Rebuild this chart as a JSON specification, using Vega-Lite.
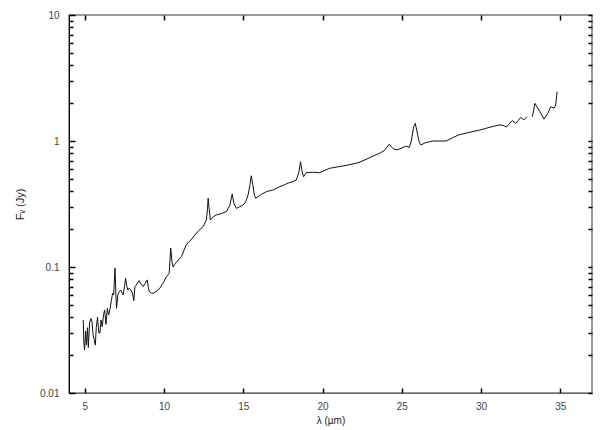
{
  "$schema": "https://vega.github.io/schema/vega-lite/v6.json",
  "width": 523,
  "height": 378,
  "autosize": {"type": "none"},
  "padding": {"left": 69, "top": 15, "right": 21, "bottom": 37},
  "background": "white",
  "config": {
    "view": {"stroke": "#7a7a7a", "strokeWidth": 1.5},
    "axis": {"labelFont": "Liberation Sans", "titleFont": "Liberation Sans", "labelColor": "#444", "titleColor": "#222", "grid": false}
  },
  "data": {"values": [
    {"s": 1, "w": 4.9, "f": 0.038}, {"s": 1, "w": 4.93, "f": 0.026}, {"s": 1, "w": 4.98, "f": 0.022}, {"s": 1, "w": 5.05, "f": 0.031},
    {"s": 1, "w": 5.1, "f": 0.024}, {"s": 1, "w": 5.17, "f": 0.033}, {"s": 1, "w": 5.22, "f": 0.023}, {"s": 1, "w": 5.3, "f": 0.036},
    {"s": 1, "w": 5.38, "f": 0.039}, {"s": 1, "w": 5.45, "f": 0.037}, {"s": 1, "w": 5.52, "f": 0.029}, {"s": 1, "w": 5.6, "f": 0.026},
    {"s": 1, "w": 5.66, "f": 0.024}, {"s": 1, "w": 5.72, "f": 0.033}, {"s": 1, "w": 5.8, "f": 0.04}, {"s": 1, "w": 5.88, "f": 0.03},
    {"s": 1, "w": 5.95, "f": 0.0298}, {"s": 1, "w": 6.02, "f": 0.038}, {"s": 1, "w": 6.1, "f": 0.0336}, {"s": 1, "w": 6.18, "f": 0.042},
    {"s": 1, "w": 6.25, "f": 0.0456}, {"s": 1, "w": 6.33, "f": 0.035}, {"s": 1, "w": 6.42, "f": 0.047}, {"s": 1, "w": 6.5, "f": 0.0416},
    {"s": 1, "w": 6.58, "f": 0.046}, {"s": 1, "w": 6.66, "f": 0.053}, {"s": 1, "w": 6.75, "f": 0.0618}, {"s": 1, "w": 6.82, "f": 0.06},
    {"s": 1, "w": 6.9, "f": 0.098}, {"s": 1, "w": 6.96, "f": 0.06}, {"s": 1, "w": 7.0, "f": 0.047}, {"s": 1, "w": 7.08, "f": 0.06},
    {"s": 1, "w": 7.18, "f": 0.064}, {"s": 1, "w": 7.27, "f": 0.0657}, {"s": 1, "w": 7.35, "f": 0.062}, {"s": 1, "w": 7.42, "f": 0.06},
    {"s": 1, "w": 7.5, "f": 0.07}, {"s": 1, "w": 7.57, "f": 0.0813}, {"s": 1, "w": 7.65, "f": 0.07}, {"s": 1, "w": 7.72, "f": 0.0657},
    {"s": 1, "w": 7.8, "f": 0.068}, {"s": 1, "w": 7.9, "f": 0.066}, {"s": 1, "w": 8.0, "f": 0.062}, {"s": 1, "w": 8.09, "f": 0.054},
    {"s": 1, "w": 8.16, "f": 0.0698}, {"s": 1, "w": 8.25, "f": 0.072}, {"s": 1, "w": 8.35, "f": 0.076}, {"s": 1, "w": 8.43, "f": 0.078},
    {"s": 1, "w": 8.55, "f": 0.073}, {"s": 1, "w": 8.68, "f": 0.07}, {"s": 1, "w": 8.8, "f": 0.074}, {"s": 1, "w": 8.93, "f": 0.079},
    {"s": 1, "w": 9.0, "f": 0.07}, {"s": 1, "w": 9.06, "f": 0.0637}, {"s": 1, "w": 9.2, "f": 0.062}, {"s": 1, "w": 9.31, "f": 0.0618},
    {"s": 1, "w": 9.5, "f": 0.064}, {"s": 1, "w": 9.73, "f": 0.0678}, {"s": 1, "w": 9.95, "f": 0.075}, {"s": 1, "w": 10.15, "f": 0.0838},
    {"s": 1, "w": 10.32, "f": 0.089}, {"s": 1, "w": 10.42, "f": 0.141}, {"s": 1, "w": 10.5, "f": 0.11}, {"s": 1, "w": 10.57, "f": 0.1},
    {"s": 1, "w": 10.67, "f": 0.105}, {"s": 1, "w": 10.8, "f": 0.11}, {"s": 1, "w": 10.99, "f": 0.117}, {"s": 1, "w": 11.1, "f": 0.121},
    {"s": 1, "w": 11.25, "f": 0.135}, {"s": 1, "w": 11.4, "f": 0.15}, {"s": 1, "w": 11.55, "f": 0.158}, {"s": 1, "w": 11.7, "f": 0.164},
    {"s": 1, "w": 11.93, "f": 0.179}, {"s": 1, "w": 12.2, "f": 0.195}, {"s": 1, "w": 12.46, "f": 0.209}, {"s": 1, "w": 12.67, "f": 0.236},
    {"s": 1, "w": 12.74, "f": 0.29}, {"s": 1, "w": 12.78, "f": 0.351}, {"s": 1, "w": 12.83, "f": 0.3}, {"s": 1, "w": 12.92, "f": 0.236},
    {"s": 1, "w": 13.1, "f": 0.25}, {"s": 1, "w": 13.3, "f": 0.259}, {"s": 1, "w": 13.6, "f": 0.265}, {"s": 1, "w": 13.93, "f": 0.275},
    {"s": 1, "w": 14.15, "f": 0.31}, {"s": 1, "w": 14.3, "f": 0.38}, {"s": 1, "w": 14.4, "f": 0.32}, {"s": 1, "w": 14.56, "f": 0.292},
    {"s": 1, "w": 14.75, "f": 0.3}, {"s": 1, "w": 14.98, "f": 0.31}, {"s": 1, "w": 15.15, "f": 0.33}, {"s": 1, "w": 15.3, "f": 0.373},
    {"s": 1, "w": 15.42, "f": 0.45}, {"s": 1, "w": 15.5, "f": 0.53}, {"s": 1, "w": 15.6, "f": 0.45}, {"s": 1, "w": 15.7, "f": 0.37},
    {"s": 1, "w": 15.78, "f": 0.351}, {"s": 1, "w": 16.1, "f": 0.375}, {"s": 1, "w": 16.45, "f": 0.396}, {"s": 1, "w": 16.9, "f": 0.41},
    {"s": 1, "w": 17.29, "f": 0.434}, {"s": 1, "w": 17.6, "f": 0.45}, {"s": 1, "w": 17.9, "f": 0.467}, {"s": 1, "w": 18.1, "f": 0.475},
    {"s": 1, "w": 18.34, "f": 0.49}, {"s": 1, "w": 18.5, "f": 0.56}, {"s": 1, "w": 18.61, "f": 0.685}, {"s": 1, "w": 18.7, "f": 0.58},
    {"s": 1, "w": 18.8, "f": 0.52}, {"s": 1, "w": 18.97, "f": 0.56}, {"s": 1, "w": 19.4, "f": 0.565}, {"s": 1, "w": 19.8, "f": 0.56},
    {"s": 1, "w": 20.44, "f": 0.607}, {"s": 1, "w": 21.0, "f": 0.625}, {"s": 1, "w": 21.5, "f": 0.64}, {"s": 1, "w": 22.3, "f": 0.675},
    {"s": 1, "w": 22.8, "f": 0.72}, {"s": 1, "w": 23.2, "f": 0.76}, {"s": 1, "w": 23.6, "f": 0.8}, {"s": 1, "w": 23.9, "f": 0.84},
    {"s": 1, "w": 24.2, "f": 0.94}, {"s": 1, "w": 24.45, "f": 0.87}, {"s": 1, "w": 24.7, "f": 0.85}, {"s": 1, "w": 25.0, "f": 0.88},
    {"s": 1, "w": 25.27, "f": 0.91}, {"s": 1, "w": 25.47, "f": 0.89}, {"s": 1, "w": 25.6, "f": 1.0}, {"s": 1, "w": 25.75, "f": 1.3},
    {"s": 1, "w": 25.85, "f": 1.38}, {"s": 1, "w": 25.95, "f": 1.2}, {"s": 1, "w": 26.1, "f": 0.98}, {"s": 1, "w": 26.2, "f": 0.93},
    {"s": 1, "w": 26.5, "f": 0.97}, {"s": 1, "w": 26.95, "f": 1.0}, {"s": 1, "w": 27.4, "f": 1.0}, {"s": 1, "w": 27.8, "f": 1.0},
    {"s": 1, "w": 28.2, "f": 1.06}, {"s": 1, "w": 28.6, "f": 1.12}, {"s": 1, "w": 29.0, "f": 1.15}, {"s": 1, "w": 29.5, "f": 1.19},
    {"s": 1, "w": 29.9, "f": 1.22}, {"s": 1, "w": 30.3, "f": 1.26}, {"s": 1, "w": 30.7, "f": 1.3}, {"s": 1, "w": 31.14, "f": 1.34},
    {"s": 1, "w": 31.4, "f": 1.33}, {"s": 1, "w": 31.6, "f": 1.29}, {"s": 1, "w": 31.8, "f": 1.38}, {"s": 1, "w": 31.97, "f": 1.45},
    {"s": 1, "w": 32.2, "f": 1.38}, {"s": 1, "w": 32.35, "f": 1.46}, {"s": 1, "w": 32.5, "f": 1.54}, {"s": 1, "w": 32.7, "f": 1.47},
    {"s": 1, "w": 32.9, "f": 1.56}, {"s": 2, "w": 33.24, "f": 1.56}, {"s": 2, "w": 33.4, "f": 1.99},
    {"s": 2, "w": 33.7, "f": 1.72}, {"s": 2, "w": 33.97, "f": 1.49}, {"s": 2, "w": 34.2, "f": 1.65}, {"s": 2, "w": 34.4, "f": 1.87},
    {"s": 2, "w": 34.6, "f": 1.82}, {"s": 2, "w": 34.7, "f": 1.9}, {"s": 2, "w": 34.8, "f": 2.46}
  ]},
  "layer": [
    {
      "mark": {"type": "line", "color": "#111", "strokeWidth": 1},
      "encoding": {
        "detail": {"field": "s", "type": "nominal"},
        "x": {"field": "w", "type": "quantitative", "scale": {"domain": [4, 37], "nice": false, "zero": false},
          "axis": {"orient": "bottom", "values": [5, 10, 15, 20, 25, 30, 35], "title": "λ (µm)", "tickSize": -5, "tickColor": "black", "tickWidth": 1.5, "labelPadding": 13, "labelFontSize": 10, "titleFontSize": 10, "titleFontWeight": "normal", "titlePadding": 4, "domainColor": "#666"}},
        "y": {"field": "f", "type": "quantitative", "scale": {"type": "log", "domain": [0.01, 10], "nice": false},
          "axis": {"orient": "left", "values": [0.01, 0.1, 1, 10], "format": "~g", "tickSize": -6, "tickColor": "black", "tickWidth": 1.5,
            "labelPadding": 16, "labelFontSize": 10, "title": "Fᵥ (Jy)", "titleFontSize": 11, "titleFontWeight": "normal", "titlePadding": 14, "domainColor": "black"}}
      }
    },
    {
      "mark": {"type": "line", "opacity": 0},
      "encoding": {
        "x": {"field": "w", "type": "quantitative",
          "axis": {"orient": "bottom", "offset": -378, "values": [5, 10, 15, 20, 25, 30, 35], "labels": false, "title": null, "domain": false, "tickSize": 5, "tickColor": "black", "tickWidth": 1.5}},
        "y": {"field": "f", "type": "quantitative",
          "axis": {"orient": "right", "offset": -523, "values": [0.02, 0.03, 0.04, 0.05, 0.06, 0.07, 0.08, 0.09, 0.2, 0.3, 0.4, 0.5, 0.6, 0.7, 0.8, 0.9, 2, 3, 4, 5, 6, 7, 8, 9],
            "labels": false, "title": null, "domain": false, "tickColor": "black", "tickWidth": 1.5, "tickSize": 4}}
      }
    },
    {
      "mark": {"type": "line", "opacity": 0},
      "encoding": {
        "y": {"field": "f", "type": "quantitative",
          "axis": {"orient": "left", "offset": -523, "values": [0.01, 0.02, 0.03, 0.04, 0.05, 0.06, 0.07, 0.08, 0.09, 0.1, 0.2, 0.3, 0.4, 0.5, 0.6, 0.7, 0.8, 0.9, 1, 2, 3, 4, 5, 6, 7, 8, 9, 10],
            "labels": false, "title": null, "domain": false, "tickColor": "black", "tickWidth": 1.5, "tickSize": 4}},
        "x": {"field": "w", "type": "quantitative", "axis": null}
      }
    }
  ],
  "resolve": {"axis": {"x": "independent", "y": "independent"}}
}
